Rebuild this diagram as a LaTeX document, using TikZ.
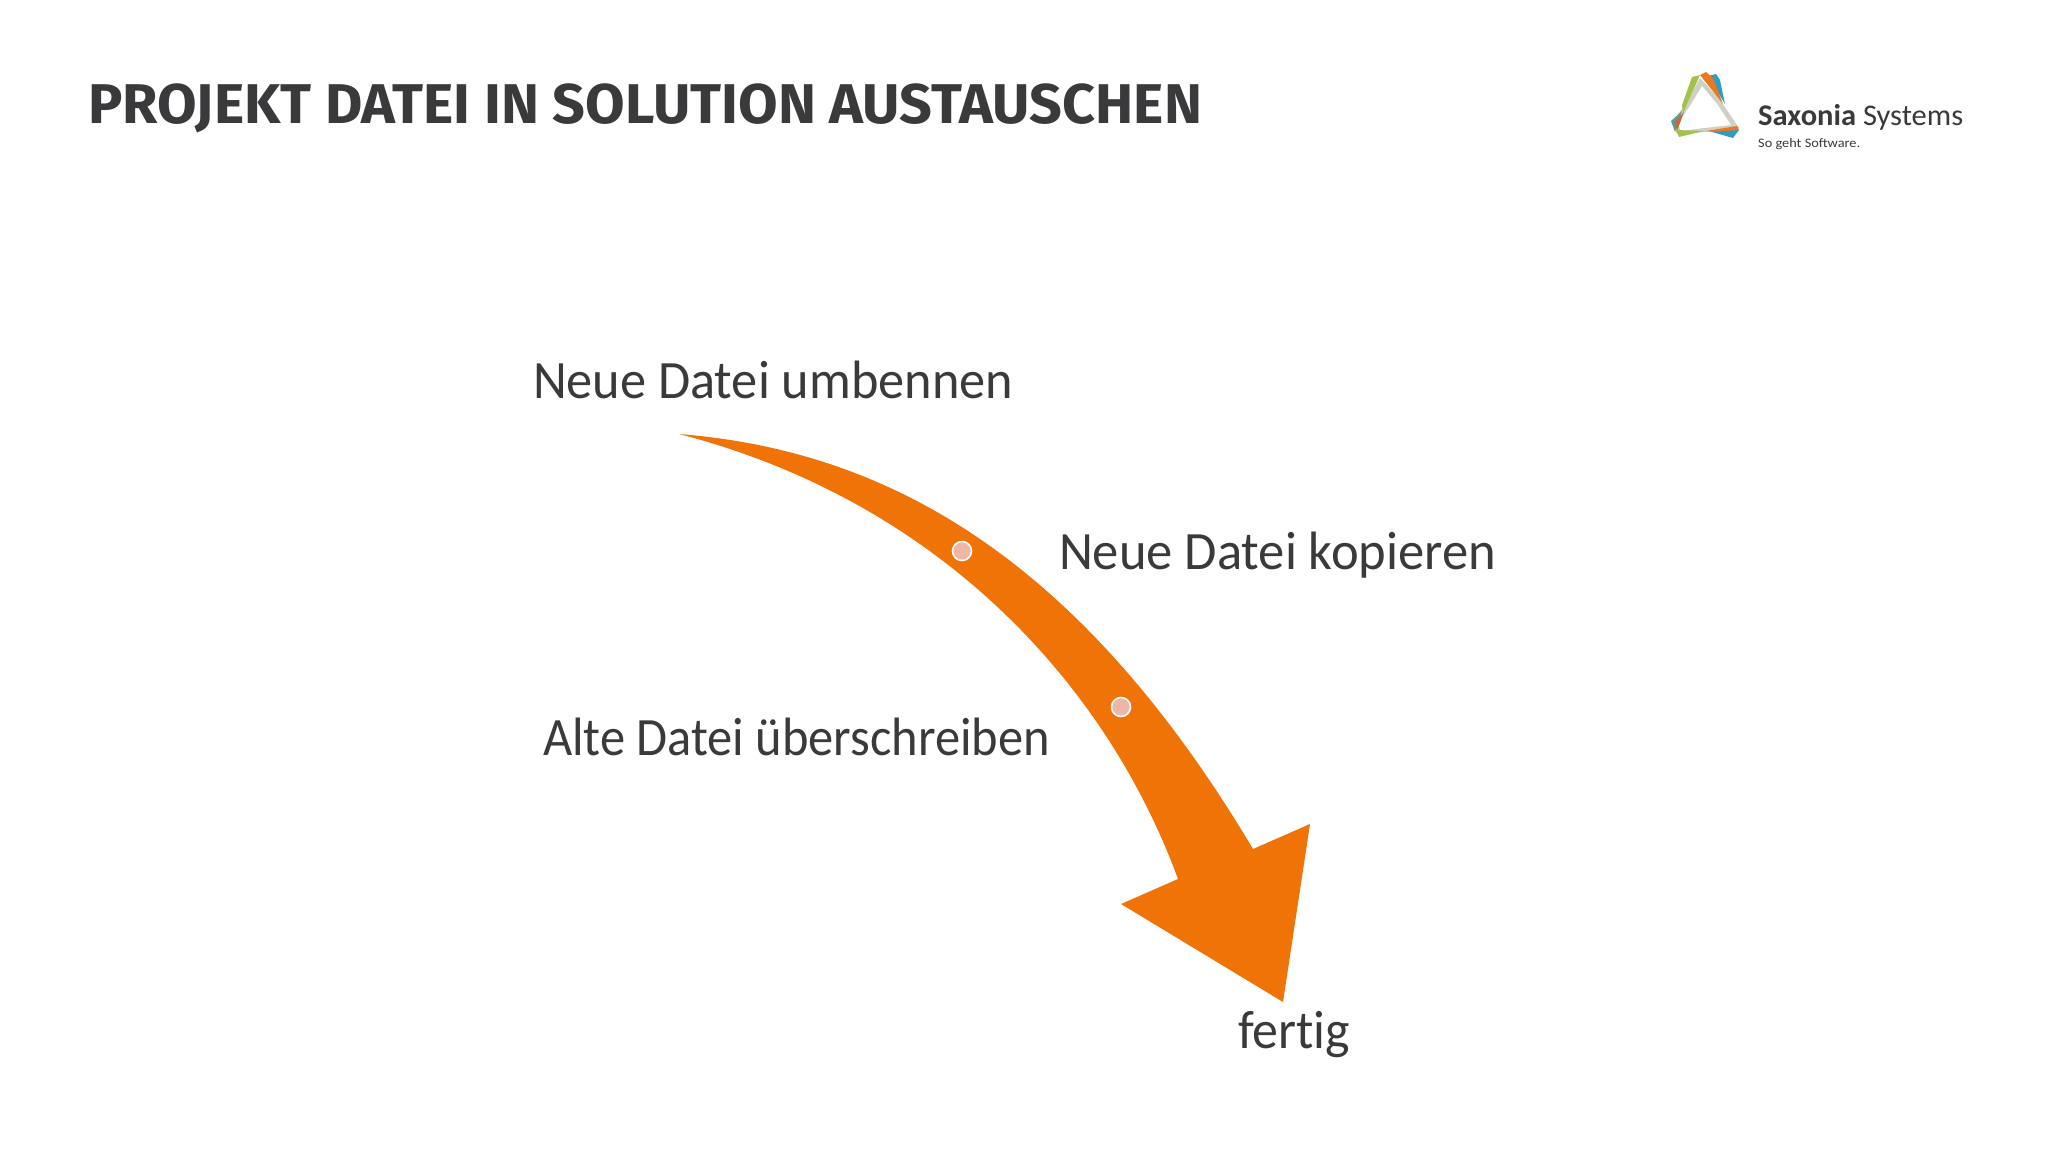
\documentclass[tikz,border=0pt]{standalone}
\usepackage{fontspec}
\usepackage{graphicx}
\setmainfont{Carlito}
\newfontfamily\titlefont{Fira Sans}
\definecolor{txt}{HTML}{3A3A3C}
\definecolor{arrowor}{HTML}{EF7306}
\definecolor{dotfill}{HTML}{EEB5A8}
\definecolor{lgreen}{HTML}{A3C24A}
\definecolor{lorange}{HTML}{E8791F}
\definecolor{lblue}{HTML}{2E9CC4}
\definecolor{lred}{HTML}{C9653F}
\definecolor{lteal}{HTML}{5E9C8E}
\definecolor{lpale}{HTML}{CFCFC4}
\tikzset{
  label text/.style={anchor=base west,inner sep=0pt,outer sep=0pt,text=txt,font=\fontsize{54}{54}\selectfont},
  title text/.style={anchor=base west,inner sep=0pt,outer sep=0pt,text=txt,font=\titlefont\bfseries\fontsize{56}{56}\selectfont},
  step dot/.style={circle,draw=white,line width=1.6pt,fill=dotfill,minimum size=19pt,inner sep=0pt},
  logo stroke/.style={line cap=round,line join=round}
}
\begin{document}
\begin{tikzpicture}[x=1pt,y=-1pt]
\useasboundingbox[fill=white] (0,0) rectangle (2048,1152);
\node[title text] (title) at (88,123) {\resizebox{1114pt}{\height}{PROJEKT DATEI IN SOLUTION AUSTAUSCHEN}};
% arrow
\fill[arrowor] (679,434) .. controls (880,450) and (1075,550) .. (1253,849)
  -- (1310,824) -- (1283,1002) -- (1121,904) -- (1178,879)
  .. controls (1105,680) and (935,500) .. (679,434) -- cycle;
\node[step dot] (d1) at (962,551) {};
\node[step dot] (d2) at (1121,707) {};
\node[label text] (t1) at (533,398) {\resizebox{480pt}{\height}{Neue Datei umbennen}};
\node[label text] (t2) at (1059,569) {\resizebox{437pt}{\height}{Neue Datei kopieren}};
\node[label text] (t3) at (543,755) {\resizebox{507pt}{\height}{Alte Datei überschreiben}};
\node[label text] (t4) at (1238,1048) {\resizebox{112pt}{\height}{fert\kern0pt ig}};
% logo
\fill[lpale] (1700,78) -- (1720,100) -- (1739,128) -- (1706,132) -- (1677,134) -- (1672,122) -- (1686,104) -- cycle;
\fill[white] (1702,86) -- (1717,104) -- (1731,125) -- (1704,128) -- (1681,131) -- (1678,123) -- (1690,106) -- cycle;
\fill[lblue,logo stroke] (1708,76) -- (1716,74) -- (1720,80) -- (1725,104) -- cycle;
\fill[lorange,logo stroke] (1700,75) -- (1706,72) -- (1713,78) -- (1723,104) -- cycle;
\fill[lgreen,logo stroke] (1692,77) -- (1700,75) -- (1683,113) -- (1682,105) -- cycle;
\fill[lteal,logo stroke] (1671,121) -- (1682,111) -- (1675,132) -- cycle;
\fill[lred,logo stroke] (1675,122) -- (1684,112) -- (1677,131) -- cycle;
\fill[lgreen,logo stroke] (1676,130) -- (1704,131) -- (1679,137) -- cycle;
\fill[lorange,logo stroke] (1706,131) -- (1737,126) -- (1739,130) -- (1720,133) -- cycle;
\fill[lblue,logo stroke] (1712,132) -- (1739,130) -- (1733,138) -- cycle;
\node[anchor=base west,inner sep=0pt,text=txt,font=\fontsize{30}{30}\selectfont] (logoname) at (1758,125)
  {\resizebox{205pt}{\height}{\textbf{Saxonia} Systems}};
\node[anchor=base west,inner sep=0pt,text=txt,font=\fontsize{13}{13}\selectfont] (logotag) at (1758,147)
  {\resizebox{102pt}{\height}{So geht Software.}};
\end{tikzpicture}
\end{document}
